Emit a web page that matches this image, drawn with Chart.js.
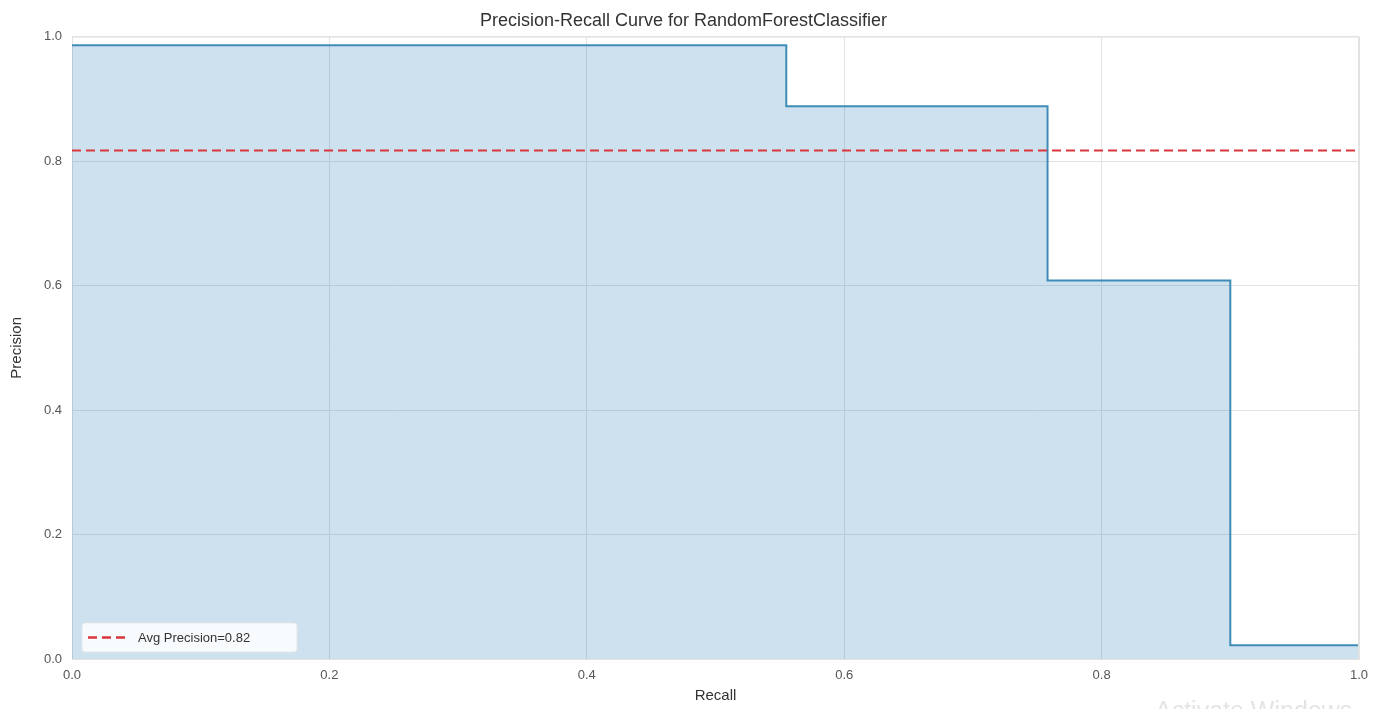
<!DOCTYPE html>
<html><head><meta charset="utf-8">
<script src="https://cdn.jsdelivr.net/npm/chart.js@4.4.0/dist/chart.umd.min.js"></script>
<style>html,body{margin:0;padding:0;background:#fff;}#wrap{width:1391px;height:709px;position:relative;}</style>
</head><body><div id="wrap"><canvas id="c" width="1391" height="709"></canvas></div>
<script>
const titleText = "Precision-Recall Curve for RandomForestClassifier";
const recall = [0.0, 0.555, 0.758, 0.900, 1.0];
const precision = [0.986, 0.888, 0.608, 0.022, 0.022];
const avgPrecision = 0.817;
const avgLabel = "Avg Precision=0.82";
const xTicks = [0.0, 0.2, 0.4, 0.6, 0.8, 1.0];
const yTicks = [0.0, 0.2, 0.4, 0.6, 0.8, 1.0];
const watermarkText = "Activate Windows";

const prPoints = recall.map((r, i) => ({x: r, y: precision[i]}));
const avgPoints = [{x: xTicks[0], y: avgPrecision}, {x: xTicks[xTicks.length - 1], y: avgPrecision}];

const FONT = "'Liberation Sans', Arial, sans-serif";

const legendInArea = {
  id: 'legendInArea',
  afterDatasetsDraw(chart) {
    const ctx = chart.ctx, a = chart.chartArea;
    const ds = chart.data.datasets[1];
    const bx = a.left + 10, by = a.bottom - 36, bw = 215, bh = 29;
    ctx.save();
    ctx.fillStyle = 'rgba(255,255,255,0.85)';
    ctx.strokeStyle = 'rgba(230,230,230,0.9)';
    ctx.lineWidth = 1;
    ctx.beginPath();
    ctx.roundRect(bx, by, bw, bh, 3);
    ctx.fill(); ctx.stroke();
    ctx.strokeStyle = ds.borderColor;
    ctx.lineWidth = 2.5;
    ctx.setLineDash(ds.borderDash);
    ctx.beginPath();
    ctx.moveTo(bx + 6, by + bh / 2);
    ctx.lineTo(bx + 44, by + bh / 2);
    ctx.stroke();
    ctx.setLineDash([]);
    ctx.fillStyle = '#333';
    ctx.font = '13px ' + FONT;
    ctx.textBaseline = 'middle';
    ctx.fillText(ds.label, bx + 56, by + bh / 2 + 1);
    ctx.restore();
  }
};

new Chart(document.getElementById('c'), {
  type: 'line',
  data: {
    datasets: [
      {
        label: 'PR',
        data: prPoints,
        stepped: 'before',
        borderColor: '#3f8db6',
        borderWidth: 2,
        backgroundColor: 'rgba(40,125,180,0.23)',
        fill: 'origin',
        pointRadius: 0,
        tension: 0,
        order: 1
      },
      {
        label: avgLabel,
        data: avgPoints,
        borderColor: '#d9363e',
        borderWidth: 2,
        borderDash: [9, 5],
        pointRadius: 0,
        fill: false,
        order: 0
      }
    ]
  },
  options: {
    responsive: false,
    animation: false,
    layout: {padding: {left: 8, right: 32, top: 0, bottom: 0}},
    plugins: {
      legend: {display: false},
      tooltip: {enabled: false},
      title: {
        display: true,
        text: titleText,
        color: '#333',
        font: {family: FONT, size: 18, weight: 'normal'},
        padding: {top: 10, bottom: 5}
      }
    },
    scales: {
      x: {
        type: 'linear',
        min: 0, max: 1,
        afterBuildTicks: s => { s.ticks = xTicks.map(v => ({value: v})); },
        ticks: {color: '#555', font: {family: FONT, size: 13}, padding: 9, callback: v => Number(v).toFixed(1)},
        grid: {color: '#e2e2e2', lineWidth: 1, drawTicks: false},
        border: {display: true, color: '#e2e2e2'},
        title: {display: true, text: 'Recall', color: '#333', font: {family: FONT, size: 15}, padding: {top: 0, bottom: 4}},
        afterFit: s => { s.height = 50; }
      },
      y: {
        type: 'linear',
        min: 0, max: 1,
        afterBuildTicks: s => { s.ticks = yTicks.map(v => ({value: v})); },
        ticks: {color: '#555', font: {family: FONT, size: 13}, padding: 10, callback: v => Number(v).toFixed(1)},
        grid: {color: '#e2e2e2', lineWidth: 1, drawTicks: false},
        border: {display: true, color: '#e2e2e2'},
        title: {display: true, text: 'Precision', color: '#333', font: {family: FONT, size: 15}, padding: {top: 0, bottom: 6}},
        afterFit: s => { s.width = 64; }
      }
    }
  },
  plugins: [legendInArea, {
    id: 'frame',
    afterDraw(chart) {
      const ctx = chart.ctx, a = chart.chartArea;
      ctx.save();
      ctx.strokeStyle = '#e2e2e2';
      ctx.lineWidth = 1;
      ctx.beginPath();
      ctx.moveTo(a.left, a.top + 0.5); ctx.lineTo(a.right, a.top + 0.5);
      ctx.moveTo(a.right - 0.5, a.top); ctx.lineTo(a.right - 0.5, a.bottom);
      ctx.stroke();
      ctx.fillStyle = 'rgba(205,205,205,0.55)';
      ctx.font = '25px ' + FONT;
      ctx.textBaseline = 'alphabetic';
      ctx.fillText(watermarkText, 1155, 719);
      ctx.restore();
    }
  }]
});
</script>
</body></html>
